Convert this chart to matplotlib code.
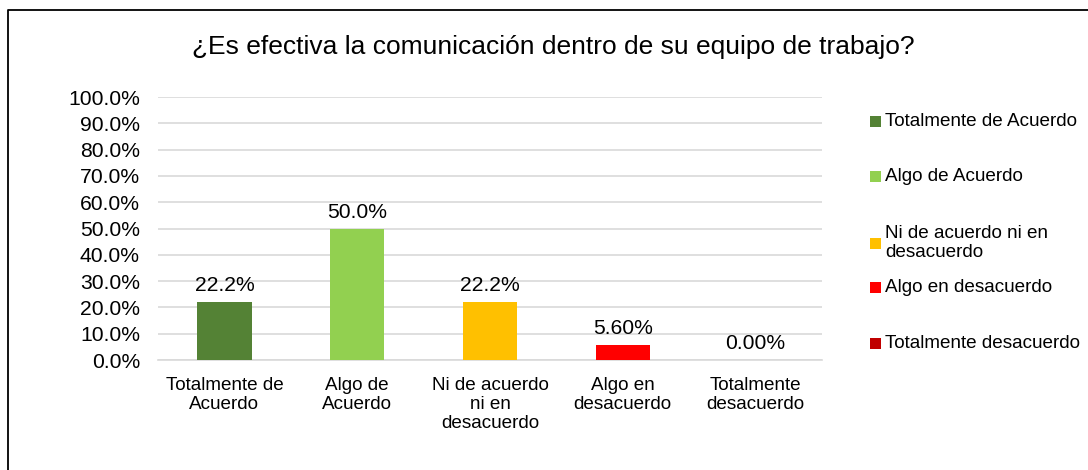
import matplotlib
matplotlib.use('Agg')
from matplotlib import pyplot as plt
from matplotlib.lines import Line2D
from matplotlib.patches import Rectangle
from matplotlib.ticker import FuncFormatter, MultipleLocator

categories = ['Totalmente de Acuerdo', 'Algo de Acuerdo', 'Ni de acuerdo ni en desacuerdo',
              'Algo en desacuerdo', 'Totalmente desacuerdo']
tick_labels = ['Totalmente de\nAcuerdo', 'Algo de\nAcuerdo', 'Ni de acuerdo\nni en\ndesacuerdo',
               'Algo en\ndesacuerdo', 'Totalmente\ndesacuerdo']
legend_labels = ['Totalmente de Acuerdo', 'Algo de Acuerdo', 'Ni de acuerdo ni en\ndesacuerdo',
                 'Algo en desacuerdo', 'Totalmente desacuerdo']
values = [0.222, 0.50, 0.222, 0.056, 0.0]
value_labels = ['22.2%', '50.0%', '22.2%', '5.60%', '0.00%']
colors = ['#548235', '#92d050', '#ffc000', '#ff0000', '#c00000']
title = '¿Es efectiva la comunicación dentro de su equipo de trabajo?'

plt.rcParams['font.family'] = ['Liberation Sans', 'DejaVu Sans']
FS_CAT = 13.6
FS_NUM = 15.2

fig = plt.figure(figsize=(10.88, 4.70), dpi=100)
ax = fig.add_axes([0.1452, 0.234, 0.6103, 0.5596])

x = list(range(len(categories)))
bars = ax.bar(x, values, width=0.41, color=colors, zorder=3)
for rect, lab in zip(bars, value_labels):
    ax.annotate(lab, (rect.get_x() + rect.get_width() / 2, rect.get_height()),
                xytext=(0, 5), textcoords='offset points', ha='center', va='bottom',
                fontsize=FS_NUM, color='#000000')

ax.set_xlim(-0.5, len(categories) - 0.5)
ax.set_ylim(0, 1.0)
ax.yaxis.set_major_locator(MultipleLocator(0.1))
ax.yaxis.set_major_formatter(FuncFormatter(lambda v, p: '{:.1f}%'.format(v * 100)))
ax.grid(axis='y', color='#d9d9d9', linewidth=1.2, zorder=0)
ax.set_xticks(x)
ax.set_xticklabels(tick_labels, fontsize=FS_CAT, linespacing=1.15)
ax.tick_params(axis='y', length=0, labelsize=FS_NUM, pad=13)
ax.tick_params(axis='x', length=0, pad=12)
for s in ['top', 'right', 'left']:
    ax.spines[s].set_visible(False)
ax.spines['bottom'].set_color('#d9d9d9')
ax.spines['bottom'].set_linewidth(1.2)

fig.text(0.509, 0.90, title, ha='center', va='center', fontsize=19)

# legend, placed by hand like the Excel one
leg_y = [121, 177, 243, 287, 343]
H = 470.0
W = 1088.0
for c, lab, yy in zip(colors, legend_labels, leg_y):
    fy = 1 - yy / H
    fig.add_artist(Rectangle((870 / W, fy - 5.5 / H), 11 / W, 11 / H, transform=fig.transFigure,
                             facecolor=c, edgecolor='none'))
    fig.text(885 / W, fy, lab, ha='left', va='center', fontsize=FS_CAT, linespacing=1.15)

# chart frame, only left and top edges are inside the picture
fig.add_artist(Line2D([8 / W, 8 / W, 1.0], [0.0, 1 - 10 / H, 1 - 10 / H],
                      transform=fig.transFigure, color='#000000', linewidth=1.3))

fig.savefig('out.png', dpi=100)
